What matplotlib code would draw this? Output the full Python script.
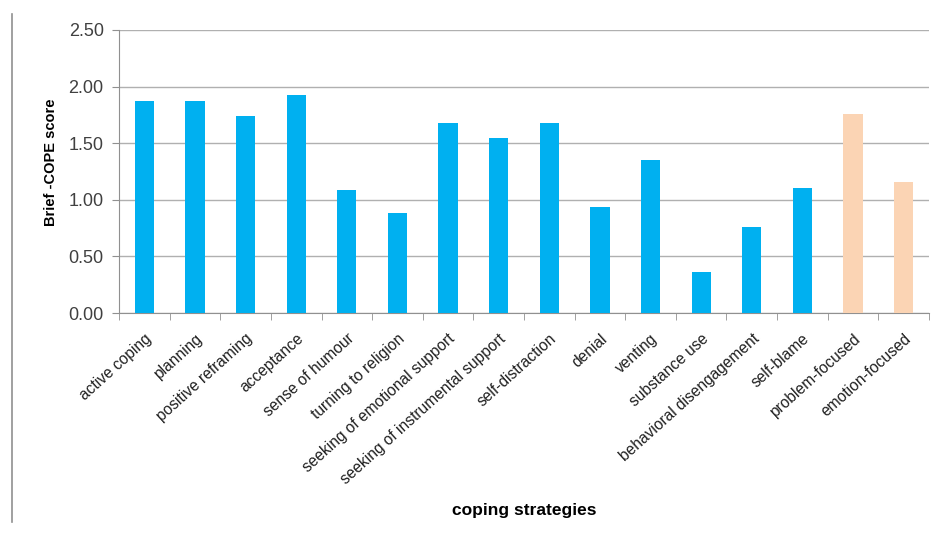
import matplotlib
matplotlib.use("Agg")
import matplotlib.pyplot as plt
from matplotlib.lines import Line2D
import numpy as np

categories = ["active coping", "planning", "positive reframing", "acceptance",
              "sense of humour", "turning to religion", "seeking of emotional support",
              "seeking of instrumental support", "self-distraction", "denial",
              "venting", "substance use", "behavioral disengagement", "self-blame",
              "problem-focused", "emotion-focused"]
values = [1.87, 1.87, 1.74, 1.93, 1.09, 0.88, 1.68, 1.55, 1.68, 0.94,
          1.35, 0.36, 0.76, 1.10, 1.76, 1.16]
groups = ["item"] * 14 + ["summary"] * 2
yticks = [0.0, 0.5, 1.0, 1.5, 2.0, 2.5]

color_map = {"item": "#00B0F0", "summary": "#FBD4B4"}
colors = [color_map[g] for g in groups]

plt.rcParams['font.family'] = ['Liberation Sans', 'DejaVu Sans']

fig = plt.figure(figsize=(9.39, 5.34), dpi=100)
ax = fig.add_axes([119/939, 1-313/534, (929-119)/939, (313-30)/534])

x = np.arange(len(categories))
ax.bar(x, values, width=0.38, color=colors, zorder=3)

ax.set_xlim(-0.5, len(categories) - 0.5)
ax.set_ylim(0, 2.5)
ax.set_yticks(yticks)
ax.set_yticklabels([f"{v:.2f}" for v in yticks], fontsize=13, color="#404040")
ax.yaxis.grid(True, color="#B0B0B0", linewidth=1.0, zorder=0)

ax.set_xticks(x)
ax.set_xticklabels(categories, rotation=42, ha="right", rotation_mode="anchor",
                   fontsize=11.2, color="#202020")
ax.tick_params(axis="x", length=0, pad=13)
ax.set_xticks(np.arange(len(categories) + 1) - 0.5, minor=True)
ax.tick_params(axis="x", which="minor", length=5, color="#909090")
ax.tick_params(axis="y", length=5, color="#909090", pad=6)

for s in ["top", "right"]:
    ax.spines[s].set_visible(False)
for s in ["left", "bottom"]:
    ax.spines[s].set_color("#909090")

fig.text(51/939, 1-162/534, "Brief -COPE score", fontsize=10.5, fontweight="bold",
         rotation=90, ha="center", va="center")
fig.text(524/939, 1-511/534, "coping strategies", fontsize=12.5, fontweight="bold",
         ha="center", va="center")

fig.add_artist(Line2D([12/939, 12/939], [1-14/534, 1-522/534], color="#909090",
                      linewidth=1.2, transform=fig.transFigure))

fig.savefig("out.png", dpi=100)
